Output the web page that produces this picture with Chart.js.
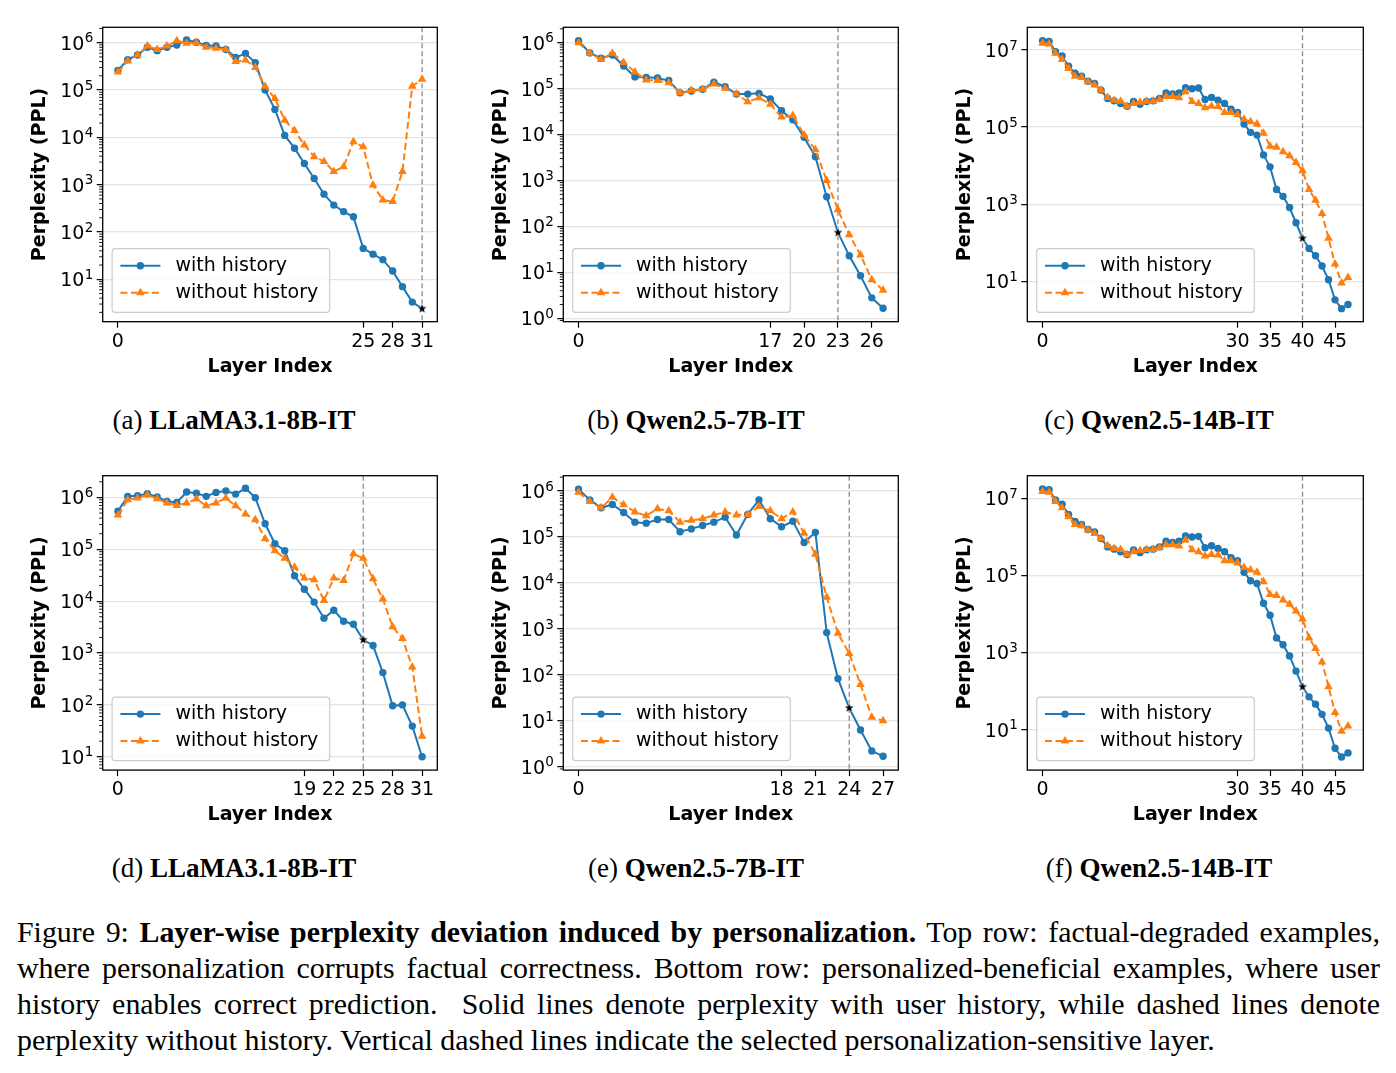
<!DOCTYPE html>
<html>
<head>
<meta charset="utf-8">
<script src="https://cdn.jsdelivr.net/npm/chart.js@4.4.0/dist/chart.umd.min.js"></script>
<style>
html, body { margin: 0; padding: 0; background: #fff; }
body { width: 1396px; height: 1073px; position: relative; overflow: hidden; }
canvas { position: absolute; }
.sub { position: absolute; width: 400px; text-align: center; font-family: 'Liberation Serif', serif;
       font-size: 27px; line-height: 32px; color: #000; white-space: nowrap; }
.cap { position: absolute; left: 17px; width: 1363px; font-family: 'Liberation Serif', serif;
       font-size: 29.9px; line-height: 36px; color: #000; }
.cap div { white-space: nowrap; text-align: justify; text-align-last: justify; }
.cap div.last { text-align: left; text-align-last: left; }
</style>
</head>
<body>

<div class="sub" style="left:34px;top:404px">(a) <b>LLaMA3.1-8B-IT</b></div>
<div class="sub" style="left:496px;top:404px">(b) <b>Qwen2.5-7B-IT</b></div>
<div class="sub" style="left:959px;top:404px">(c) <b>Qwen2.5-14B-IT</b></div>
<div class="sub" style="left:34px;top:852px">(d) <b>LLaMA3.1-8B-IT</b></div>
<div class="sub" style="left:496px;top:852px">(e) <b>Qwen2.5-7B-IT</b></div>
<div class="sub" style="left:959px;top:852px">(f) <b>Qwen2.5-14B-IT</b></div>

<div class="cap" style="top:914px">
  <div>Figure 9: <b>Layer-wise perplexity deviation induced by personalization.</b> Top row: factual-degraded examples,</div>
  <div>where personalization corrupts factual correctness. Bottom row: personalized-beneficial examples, where user</div>
  <div>history enables correct prediction.&nbsp; Solid lines denote perplexity with user history, while dashed lines denote</div>
  <div class="last">perplexity without history. Vertical dashed lines indicate the selected personalization-sensitive layer.</div>
</div>

<script>
// (a) LLaMA3.1-8B-IT, factual-degraded
const aWith = [2.6e5, 4.4e5, 5.5e5, 8.0e5, 6.8e5, 8.0e5, 8.9e5, 1.14e6, 1.02e6, 8.8e5, 8.5e5, 7.2e5, 4.9e5, 5.9e5, 3.8e5, 1.0e5,
               3.9e4, 1.1e4, 5.9e3, 2.8e3, 1.35e3, 630, 370, 270, 210, 45, 34, 26, 15, 7.0, 3.3, 2.4];
const aWithout = [2.4e5, 4.1e5, 5.5e5, 8.5e5, 7.2e5, 8.5e5, 1.1e6, 9.7e5, 1.0e6, 8.0e5, 7.6e5, 7.2e5, 4.0e5, 4.3e5, 3.0e5, 1.2e5,
                  6.6e4, 2.3e4, 1.4e4, 6.9e3, 3.9e3, 3.1e3, 1.9e3, 2.4e3, 8.1e3, 6.3e3, 980, 475, 440, 1.9e3, 1.2e5, 1.7e5];
const aXTicks = [0, 25, 28, 31];
const aYTicks = [1e1, 1e2, 1e3, 1e4, 1e5, 1e6];
const aSelected = 31;

// (b) Qwen2.5-7B-IT, factual-degraded
const bWith = [1.1e6, 6.0e5, 4.6e5, 5.4e5, 3.1e5, 1.8e5, 1.76e5, 1.7e5, 1.5e5, 8.1e4, 8.9e4, 9.7e4, 1.38e5, 1.1e5,
               7.6e4, 7.6e4, 7.9e4, 6.0e4, 3.3e4, 2.1e4, 8.7e3, 3.3e3, 445, 74, 23, 8.5, 2.8, 1.66];
const bWithout = [1.0e6, 5.9e5, 4.3e5, 5.9e5, 3.7e5, 2.3e5, 1.55e5, 1.5e5, 1.35e5, 8.1e4, 9.1e4, 9.7e4, 1.26e5, 1.02e5,
                  7.6e4, 5.2e4, 6.3e4, 4.6e4, 2.4e4, 2.6e4, 9.8e3, 4.7e3, 1.0e3, 230, 66, 24, 6.9, 4.1];
const bXTicks = [0, 17, 20, 23, 26];
const bYTicks = [1e0, 1e1, 1e2, 1e3, 1e4, 1e5, 1e6];
const bSelected = 23;

// (c) Qwen2.5-14B-IT, factual-degraded
const cWith = [1.75e7, 1.66e7, 9.0e6, 7.0e6, 3.8e6, 2.5e6, 2.1e6, 1.55e6, 1.35e6, 9.1e5, 5.5e5, 4.8e5, 4.1e5, 3.5e5, 4.6e5, 3.9e5,
               4.6e5, 4.8e5, 5.5e5, 7.7e5, 7.2e5, 7.7e5, 1.05e6, 9.9e5, 1.03e6, 5.2e5, 5.9e5, 5.0e5, 4.1e5, 2.9e5, 2.4e5, 1.2e5,
               7.3e4, 6.2e4, 1.9e4, 9.3e3, 2.4e3, 1.6e3, 820, 330, 130, 71, 46, 25, 11, 3.3, 1.95, 2.5];
const cWithout = [1.49e7, 1.43e7, 8.2e6, 5.7e6, 3.3e6, 2.1e6, 1.95e6, 1.5e6, 1.23e6, 9.1e5, 5.9e5, 5.0e5, 4.7e5, 3.5e5, 4.1e5, 4.4e5,
                  4.7e5, 4.7e5, 5.2e5, 6.2e5, 6.2e5, 5.8e5, 8.3e5, 4.6e5, 4.1e5, 3.2e5, 3.5e5, 3.4e5, 2.4e5, 2.4e5, 2.1e5, 1.6e5,
                  1.38e5, 1.2e5, 6.9e4, 3.2e4, 3.0e4, 2.3e4, 1.8e4, 1.2e4, 7.4e3, 2.4e3, 1.27e3, 570, 130, 28, 9.1, 12.5];
const cXTicks = [0, 30, 35, 40, 45];
const cYTicks = [1e1, 1e3, 1e5, 1e7];
const cSelected = 40;

// (d) LLaMA3.1-8B-IT, personalized-beneficial
const dWith = [5.4e5, 1.05e6, 1.08e6, 1.18e6, 1.02e6, 8.4e5, 8.0e5, 1.27e6, 1.21e6, 1.05e6, 1.25e6, 1.34e6, 1.16e6, 1.5e6, 9.9e5, 3.1e5,
               1.28e5, 9.4e4, 3.1e4, 1.7e4, 9.6e3, 4.7e3, 6.7e3, 4.1e3, 3.6e3, 1.8e3, 1.4e3, 420, 96, 100, 39, 10];
const dWithout = [4.6e5, 9.0e5, 9.7e5, 1.13e6, 9.4e5, 7.8e5, 7.0e5, 7.8e5, 9.3e5, 6.9e5, 7.8e5, 9.7e5, 6.9e5, 4.8e5, 3.7e5, 1.6e5,
                  9.4e4, 6.7e4, 4.5e4, 2.8e4, 2.6e4, 1.03e4, 2.8e4, 2.5e4, 8.2e4, 6.7e4, 2.7e4, 1.1e4, 3.2e3, 1.9e3, 540, 25];
const dXTicks = [0, 19, 22, 25, 28, 31];
const dYTicks = [1e1, 1e2, 1e3, 1e4, 1e5, 1e6];
const dSelected = 25;

// (e) Qwen2.5-7B-IT, personalized-beneficial
const eWith = [1.1e6, 6.4e5, 4.3e5, 5.1e5, 3.4e5, 2.1e5, 2.0e5, 2.4e5, 2.4e5, 1.3e5, 1.5e5, 1.77e5, 2.1e5, 2.7e5,
               1.1e5, 3.1e5, 6.4e5, 2.5e5, 1.67e5, 2.2e5, 7.6e4, 1.26e5, 830, 83, 19, 6.3, 2.2, 1.7];
const eWithout = [9.4e5, 5.9e5, 4.3e5, 7.3e5, 5.0e5, 3.5e5, 2.9e5, 4.1e5, 3.7e5, 2.1e5, 2.3e5, 2.5e5, 3.0e5, 3.5e5,
                  3.0e5, 3.1e5, 4.6e5, 3.7e5, 2.5e5, 3.5e5, 1.2e5, 4.2e4, 4.9e3, 800, 290, 62, 12, 10];
const eXTicks = [0, 18, 21, 24, 27];
const eYTicks = [1e0, 1e1, 1e2, 1e3, 1e4, 1e5, 1e6];
const eSelected = 24;

// (f) Qwen2.5-14B-IT, personalized-beneficial (same curves as (c))
const fWith = cWith;
const fWithout = cWithout;
const fXTicks = [0, 30, 35, 40, 45];
const fYTicks = [1e1, 1e3, 1e5, 1e7];
const fSelected = 40;

const BLUE = '#1f77b4';
const ORANGE = '#ff7f0e';
const FONT = "'DejaVu Sans'";

Chart.defaults.font.family = FONT;
Chart.defaults.color = '#000';

const panels = [
  { w: aWith, wo: aWithout, xt: aXTicks, yt: aYTicks, sel: aSelected, left: 102.7, top: 27.3, width: 334.6, lo: 0.104, hi: 6.326, minor: true },
  { w: bWith, wo: bWithout, xt: bXTicks, yt: bYTicks, sel: bSelected, left: 563.3, top: 27.3, width: 335, lo: -0.072, hi: 6.335, minor: true },
  { w: cWith, wo: cWithout, xt: cXTicks, yt: cYTicks, sel: cSelected, left: 1027.3, top: 27.3, width: 336, lo: -0.048, hi: 7.589, minor: false },
  { w: dWith, wo: dWithout, xt: dXTicks, yt: dYTicks, sel: dSelected, left: 102.7, top: 475.7, width: 334.6, lo: 0.743, hi: 6.419, minor: true },
  { w: eWith, wo: eWithout, xt: eXTicks, yt: eYTicks, sel: eSelected, left: 563.3, top: 475.7, width: 335, lo: -0.072, hi: 6.333, minor: true },
  { w: fWith, wo: fWithout, xt: fXTicks, yt: fYTicks, sel: fSelected, left: 1027.3, top: 475.7, width: 336, lo: -0.048, hi: 7.586, minor: false },
];
const PLOT_H = 294.4;

function makeStar(r) {
  const c = document.createElement('canvas');
  const s = Math.ceil(r * 2 + 4);
  c.width = c.height = s;
  const g = c.getContext('2d');
  g.beginPath();
  for (let i = 0; i < 10; i++) {
    const rr = i % 2 ? r * 0.42 : r;
    const ang = -Math.PI / 2 + i * Math.PI / 5;
    g.lineTo(s / 2 + rr * Math.cos(ang), s / 2 + rr * Math.sin(ang));
  }
  g.closePath();
  g.lineWidth = 1;
  g.strokeStyle = 'rgba(255,255,255,0.9)';
  g.stroke();
  g.fillStyle = '#000';
  g.fill();
  return c;
}
const star = makeStar(4.6);

function marker(ctx, style, x, y, r, color) {
  ctx.fillStyle = color;
  ctx.beginPath();
  if (style === 'triangle') {
    for (let i = 0; i < 3; i++) {
      const ang = i * 2 * Math.PI / 3;
      ctx.lineTo(x + Math.sin(ang) * r, y - Math.cos(ang) * r);
    }
    ctx.closePath();
  } else {
    ctx.arc(x, y, r, 0, Math.PI * 2);
  }
  ctx.fill();
}

const decor = {
  id: 'decor',
  beforeDatasetsDraw(chart, args, opts) {
    const { ctx, chartArea: a } = chart;
    const px = chart.scales.x.getPixelForValue(opts.sel);
    ctx.save();
    ctx.strokeStyle = 'rgba(128,128,128,0.9)';
    ctx.lineWidth = 1.3;
    ctx.setLineDash([5, 3]);
    ctx.beginPath();
    ctx.moveTo(px, a.top);
    ctx.lineTo(px, a.bottom);
    ctx.stroke();
    ctx.restore();
  },
  afterDatasetsDraw(chart, args, opts) {
    const { ctx, chartArea: a } = chart;
    const y = chart.scales.y;
    ctx.save();
    // frame
    ctx.strokeStyle = '#000';
    ctx.lineWidth = 1.3;
    ctx.strokeRect(a.left, a.top, a.right - a.left, a.bottom - a.top);
    // minor log ticks
    if (opts.minor) {
      ctx.lineWidth = 0.9;
      const e0 = Math.floor(Math.log10(y.min)), e1 = Math.ceil(Math.log10(y.max));
      for (let e = e0; e < e1; e++) {
        for (let k = 2; k < 10; k++) {
          const v = k * Math.pow(10, e);
          if (v < y.min || v > y.max) continue;
          const py = y.getPixelForValue(v);
          ctx.beginPath();
          ctx.moveTo(a.left - 3.5, py);
          ctx.lineTo(a.left, py);
          ctx.stroke();
        }
      }
    }
    // y tick labels as 10 with a raised exponent
    ctx.fillStyle = '#000';
    ctx.textAlign = 'right';
    ctx.textBaseline = 'alphabetic';
    y.ticks.forEach(t => {
      const py = y.getPixelForValue(t.value);
      const right = a.left - 9.4;
      const ex = String(Math.round(Math.log10(t.value)));
      ctx.font = '13.5px ' + FONT;
      const ew = ctx.measureText(ex).width;
      ctx.fillText(ex, right, py - 0.3);
      ctx.font = '19px ' + FONT;
      ctx.fillText('10', right - ew - 0.3, py + 6.9);
    });
    // legend
    const bw = 217.6, bh = 63.6;
    const bx = a.left + 9.4, by = a.bottom - 9.4 - bh;
    ctx.beginPath();
    ctx.roundRect(bx, by, bw, bh, 3);
    ctx.fillStyle = 'rgba(255,255,255,0.8)';
    ctx.fill();
    ctx.strokeStyle = '#cccccc';
    ctx.lineWidth = 1.2;
    ctx.stroke();
    chart.data.datasets.slice(0, 2).forEach((ds, i) => {
      const yy = by + 17 + i * 27;
      ctx.strokeStyle = ds.borderColor;
      ctx.lineWidth = ds.borderWidth;
      ctx.setLineDash(ds.borderDash || []);
      ctx.beginPath();
      ctx.moveTo(bx + 8.3, yy);
      ctx.lineTo(bx + 48.3, yy);
      ctx.stroke();
      ctx.setLineDash([]);
      marker(ctx, ds.pointStyle, bx + 28.3, yy, ds.legendRadius, ds.backgroundColor);
      ctx.fillStyle = '#000';
      ctx.font = '19px ' + FONT;
      ctx.textAlign = 'left';
      ctx.textBaseline = 'middle';
      ctx.fillText(ds.label, bx + 63.3, yy);
    });
    ctx.restore();
  }
};

panels.forEach(p => {
  const cl = Math.floor(p.left - 80);
  const ct = Math.floor(p.top - 20);
  const cw = Math.ceil(p.left + p.width + 15) - cl;
  const ch = Math.ceil(p.top + PLOT_H + 60) - ct;
  const padTop = p.top - ct;
  const yAxisW = p.left - cl;
  const xAxisH = ch - padTop - PLOT_H;
  const padRight = cw - yAxisW - p.width;

  const cv = document.createElement('canvas');
  cv.width = cw;
  cv.height = ch;
  cv.style.left = cl + 'px';
  cv.style.top = ct + 'px';
  document.body.appendChild(cv);

  const n = p.w.length;
  const xy = vals => vals.map((v, i) => ({ x: i, y: v }));

  new Chart(cv.getContext('2d'), {
    type: 'line',
    data: {
      datasets: [
        { label: 'with history', data: xy(p.w), borderColor: BLUE, backgroundColor: BLUE, borderWidth: 2,
          pointStyle: 'circle', pointRadius: c => (c.dataIndex === p.sel ? 0 : 3.7), legendRadius: 3.7,
          pointBorderWidth: 0, tension: 0, order: 2 },
        { label: 'without history', data: xy(p.wo), borderColor: ORANGE, backgroundColor: ORANGE, borderWidth: 2,
          borderDash: [7, 3.5], pointStyle: 'triangle', pointRadius: 5, legendRadius: 5,
          pointBorderWidth: 0, tension: 0, order: 1 },
        { label: 'selected layer', data: [{ x: p.sel, y: p.w[p.sel] }], showLine: false,
          pointStyle: star, pointRadius: 5, order: 0 }
      ]
    },
    options: {
      responsive: false,
      animation: false,
      events: [],
      layout: { padding: { left: 0, top: padTop, right: padRight, bottom: 0 } },
      plugins: {
        legend: { display: false },
        tooltip: { enabled: false },
        decor: { sel: p.sel, minor: p.minor }
      },
      scales: {
        x: {
          type: 'linear',
          bounds: 'data',
          min: -0.05 * (n - 1),
          max: 1.05 * (n - 1),
          afterBuildTicks: s => { s.ticks = p.xt.map(v => ({ value: v })); },
          afterFit: s => { s.height = xAxisH; },
          border: { display: false },
          grid: { display: true, drawOnChartArea: false, drawTicks: true, tickLength: 6, tickWidth: 1.2, tickColor: '#000' },
          ticks: { autoSkip: false, maxRotation: 0, padding: 3, font: { size: 19 }, color: '#000', callback: v => String(v) },
          title: { display: true, text: 'Layer Index', color: '#000', font: { size: 19, weight: 'bold' },
                   padding: { top: 0, bottom: xAxisH - 11.4 - 45 } }
        },
        y: {
          type: 'logarithmic',
          min: Math.pow(10, p.lo),
          max: Math.pow(10, p.hi),
          afterBuildTicks: s => { s.ticks = p.yt.map(v => ({ value: v })); },
          afterFit: s => { s.width = yAxisW; },
          border: { display: false },
          grid: { color: '#e4e4e4', lineWidth: 1.3, drawTicks: true, tickLength: 6, tickWidth: 1.2, tickColor: '#000' },
          ticks: { display: false, autoSkip: false },
          title: { display: true, text: 'Perplexity (PPL)', color: '#000', font: { size: 19, weight: 'bold' },
                   padding: { top: (yAxisW - 62.7) - 11.4, bottom: 0 } }
        }
      }
    },
    plugins: [decor]
  });
});
</script>
</body>
</html>
